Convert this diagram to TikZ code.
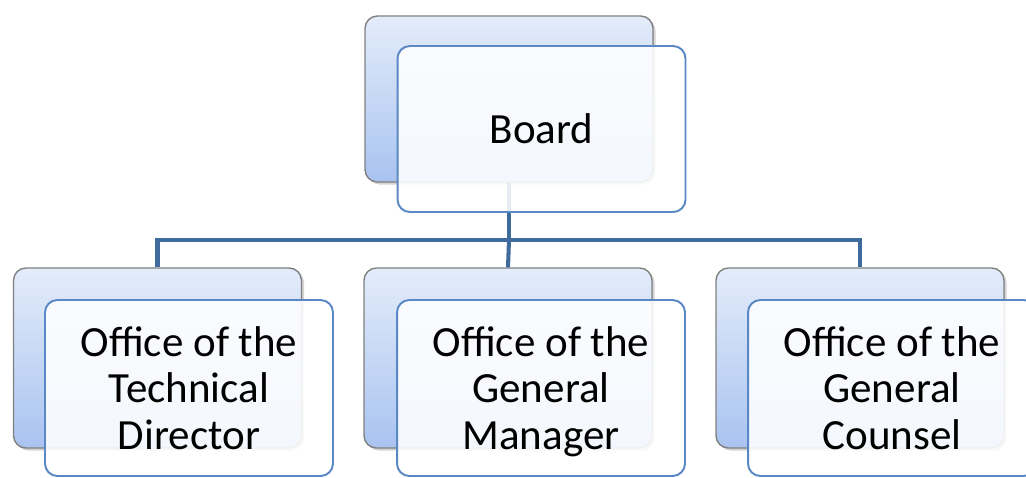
\documentclass[tikz,border=0pt]{standalone}
\usepackage{fontspec}
\setmainfont{Carlito}
\usetikzlibrary{positioning}
\usetikzlibrary{shadows}

\definecolor{backtop}{HTML}{E3ECFA}
\definecolor{backbot}{HTML}{A9C3F0}
\definecolor{frontline}{HTML}{5A88C4}
\definecolor{linkblue}{HTML}{3F6A9C}

\begin{document}
\begin{tikzpicture}[x=0.02cm,y=-0.02cm,
    backbox/.style={rectangle, rounded corners=7pt, draw=gray, line width=0.8pt,
      top color=backtop, bottom color=backbot, minimum width=5.76cm,
      drop shadow={shadow xshift=1.5pt, shadow yshift=-1.5pt, opacity=0.35}},
    frontbox/.style={rectangle, rounded corners=7pt, draw=frontline, line width=1.1pt,
      fill=white, fill opacity=0.88, text opacity=1, minimum width=5.76cm,
      align=center, font=\fontsize{24.5}{26.5}\selectfont, text depth=0pt},
    link/.style={draw=linkblue, line width=2.3pt}]
      % Fix the page size
      \useasboundingbox (0,0) rectangle (1026,477);

      % Back boxes
      \node[backbox, minimum height=3.32cm] (boardback) at (509,99) {};
      \node[backbox, minimum height=3.6cm] (techback) at (157.5,358) {};
      \node[backbox, minimum height=3.6cm] (managerback) at (508,358) {};
      \node[backbox, minimum height=3.6cm] (counselback) at (860,358) {};

      % Connectors
      \coordinate (split) at (509,240);
      \draw[link] (boardback.south) -- (split);
      \draw[link] (techback.north) |- (split) -| (counselback.north);
      \draw[link] (split) -- (managerback.north);

      % Front boxes with the texts
      \node[frontbox, minimum height=3.32cm] (board) at (541.5,129) {Board};
      \node[frontbox, minimum height=3.52cm] (tech) at (189,388) {Office of the\\Technical\\Director};
      \node[frontbox, minimum height=3.52cm] (manager) at (541,388) {Office of the\\General\\Manager};
      \node[frontbox, minimum height=3.52cm] (counsel) at (892,388) {Office of the\\General\\Counsel};
    \end{tikzpicture}
\end{document}
